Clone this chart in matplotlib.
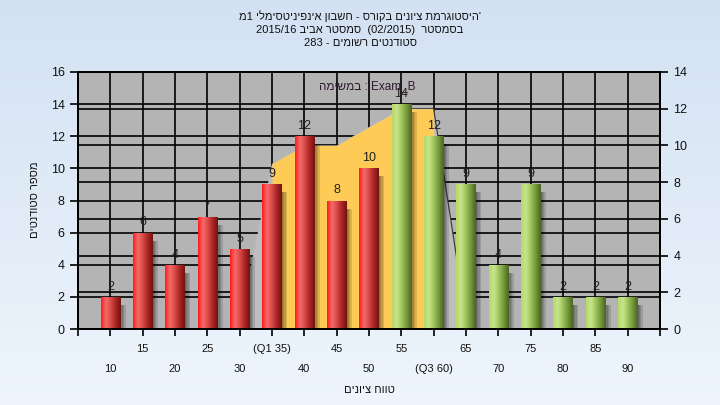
import re
import numpy as np
import matplotlib
matplotlib.use("Agg")
import matplotlib.pyplot as plt
from matplotlib.colors import LinearSegmentedColormap
from matplotlib.lines import Line2D
from matplotlib.patches import Rectangle
from matplotlib.transforms import blended_transform_factory

plt.rcParams['font.family'] = ['Liberation Sans', 'DejaVu Sans']


GRADES = [10, 15, 20, 25, 30, 35, 40, 45, 50, 55, 60, 65, 70, 75, 80, 85, 90]
LABELS = ['10', '15', '20', '25', '30', '(Q1 35)', '40', '45', '50', '55',
          '(Q3 60)', '65', '70', '75', '80', '85', '90']
COUNTS = [2, 6, 4, 7, 5, 9, 12, 8, 10, 14, 12, 9, 4, 9, 2, 2, 2]
PASS_GRADE = 55

# area between Q1 and Q3 (values on the right axis)
AREA_FROM = '(Q1 35)'
AREA_TO = '(Q3 60)'
AREA_VALS = [9, 10, 10, 11, 12, 12]

LEFT_TICKS = list(range(0, 17, 2))
RIGHT_TICKS = list(range(0, 15, 2))

TITLE = ["'היסטוגרמת ציונים בקורס - חשבון אינפיניטסימלי 1מ",
         "בסמסטר  (02/2015)  סמסטר אביב 2015/16",
         "סטודנטים רשומים - 283"]
SERIES_NAME = "Exam_B : במשימה"
XLABEL = "טווח ציונים"
YLABEL = "מספר סטודנטים"


def heb(s):
    # matplotlib has no bidi -> put the runs in visual (RTL) order
    runs = re.findall(r'[A-Za-z0-9_/().]+|[^A-Za-z0-9_/().]+', s)
    return ''.join(r if re.match(r'[A-Za-z0-9_/().]', r) else r[::-1]
                   for r in reversed(runs))


RED = LinearSegmentedColormap.from_list('red', ['#ff1c1c', '#f46c6c', '#d84848', '#a82424', '#721212'])
GREEN = LinearSegmentedColormap.from_list('green', ['#b4d86a', '#c8e68c', '#9cc25a', '#74963a', '#4a6420'])

fig = plt.figure(figsize=(7.2, 4.05), dpi=100)

bg = fig.add_axes([0, 0, 1, 1], zorder=-10)
bg.imshow(np.linspace(0, 1, 256)[:, None], aspect='auto', extent=[0, 1, 0, 1],
          cmap=LinearSegmentedColormap.from_list('bg', ['#d3e1f3', '#eef5fc']))
bg.axis('off')

ax = fig.add_axes([78 / 720, 1 - 329 / 405, 582 / 720, 257 / 405])
ax.set_facecolor('#b4b4b4')
ax2 = ax.twinx()
ax2.set_ylim(0, 14)

x = np.arange(len(GRADES))

# area (drawn on ax, in right axis units, so it stays behind the bars)
i0, i1 = LABELS.index(AREA_FROM), LABELS.index(AREA_TO)
ax_x = x[i0:i1 + 1]
ax.fill(np.r_[ax_x[0] - 1.05, ax_x, ax_x[-1] + 1.05], np.r_[0, AREA_VALS, 0],
        color='#bdbdbd', lw=0, transform=ax2.transData, zorder=2.2)
ax.fill_between(ax_x, AREA_VALS, color='#ffcb57', lw=0, transform=ax2.transData, zorder=2.5)
ax.plot([ax_x[-1], ax_x[-1] + 1.05], [AREA_VALS[-1], 0], color='#404040', lw=0.9,
        transform=ax2.transData, zorder=2.6)

bars = ax.bar(x, COUNTS, width=0.6, color='none', lw=0, zorder=4)
grad = np.linspace(0, 1, 64)[None, :]
for g, b in zip(GRADES, bars):
    x0, w, h = b.get_x(), b.get_width(), b.get_height()
    # soft shadow
    for dx in (0.04, 0.08, 0.12, 0.17):
        ax.add_patch(Rectangle((x0 + dx, -0.2), w, h - 0.3, color='k', alpha=0.13, lw=0, zorder=3.5))
    im = ax.imshow(grad, cmap=GREEN if g >= PASS_GRADE else RED, extent=[x0, x0 + w, 0, h],
                   aspect='auto', interpolation='bicubic', zorder=4)
    im.set_clip_path(b)
ax.bar_label(bars, padding=3, fontsize=9, color='#202020', zorder=6)

# grid
ax.set_axisbelow(True)
ax.set_xticks(np.arange(-1, len(GRADES) + 1))
ax.set_xticklabels([])
ax.set_yticks(LEFT_TICKS)
ax.grid(True, color='k', lw=1.2)
tr = blended_transform_factory(ax.transAxes, ax2.transData)
for v in RIGHT_TICKS:
    ax.add_line(Line2D([0, 1], [v, v], color='k', lw=1.2, transform=tr, zorder=0.6))

ax.set_xlim(-1, len(GRADES))
ax.set_ylim(0, 16)
ax2.set_yticks(RIGHT_TICKS)

for a in (ax, ax2):
    for s in a.spines.values():
        s.set_color('k')
        s.set_linewidth(1.3)
        s.set_zorder(5)
ax.tick_params(axis='y', direction='out', length=6, width=1.2, labelsize=9, labelcolor='#111111')
ax.tick_params(axis='x', direction='out', length=5, width=1.2)
ax2.tick_params(axis='y', direction='out', length=6, width=1.2, labelsize=9, labelcolor='#111111')

xt = ax.get_xaxis_transform()
for i, lab in enumerate(LABELS):
    ax.text(i, -0.078 if i % 2 else -0.156, lab, transform=xt, ha='center', va='center',
            fontsize=8, color='#111111')

ax.text(0.497, 0.945, heb(SERIES_NAME), transform=ax.transAxes, ha='center', va='center',
        fontsize=8.5, color='#301830', zorder=7)

for yy, line in zip([0.960, 0.926, 0.894], TITLE):
    fig.text(0.5, yy, heb(line), ha='center', va='center', fontsize=8, color='#111111')
fig.text(0.513, 0.037, heb(XLABEL), ha='center', va='center', fontsize=8, color='#111111')
fig.text(35 / 720, 0.506, heb(YLABEL), ha='center', va='center', rotation=90, fontsize=8,
         color='#111111')

fig.savefig('out.png', dpi=100)
